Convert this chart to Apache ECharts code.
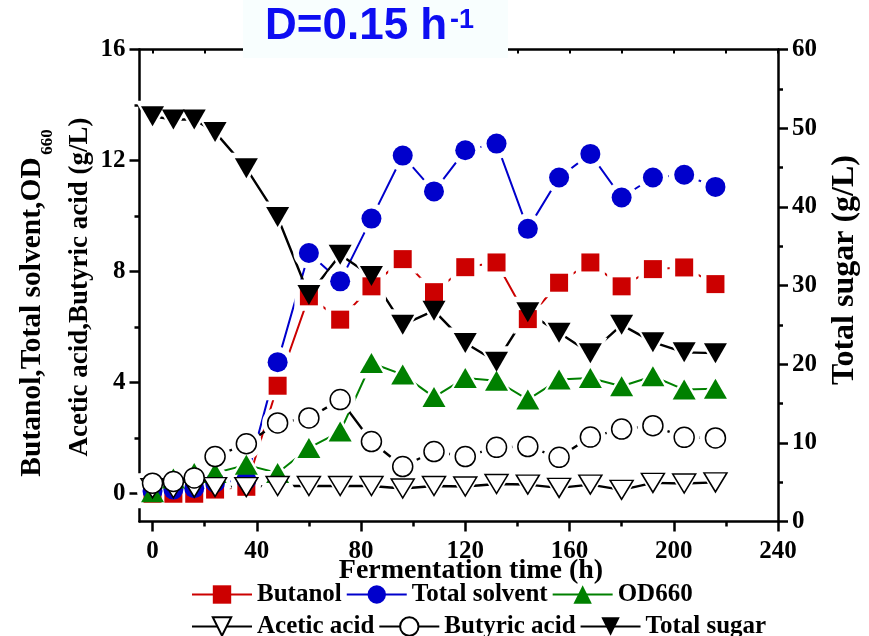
<!DOCTYPE html>
<html>
<head>
<meta charset="utf-8">
<script src="https://cdn.jsdelivr.net/npm/echarts@6.0.0/dist/echarts.min.js"></script>
<style>
  html, body { margin: 0; padding: 0; background: #ffffff; }
  #chart { width: 869px; height: 636px; }
</style>
</head>
<body>
<div id="chart"></div>
<script>
// Sampling times (h)
const timeH = [0, 8, 16, 24, 36, 48, 60, 72, 84, 96, 108, 120, 132, 144, 156, 168, 180, 192, 204, 216];

// Left axis (g/L, OD660)
const butanol      = [0.0, 0.0, 0.0, 0.15, 0.25, 3.89, 7.11, 6.27, 7.47, 8.45, 7.26, 8.16, 8.33, 6.29, 7.60, 8.33, 7.47, 8.09, 8.15, 7.55];
const totalSolvent = [0.1, 0.15, 0.2, 0.4, 0.5, 4.74, 8.67, 7.65, 9.91, 12.18, 10.89, 12.37, 12.61, 9.54, 11.39, 12.24, 10.67, 11.39, 11.49, 11.05];
const od660        = [0.05, 0.55, 0.75, 0.75, 1.04, 0.75, 1.65, 2.24, 4.71, 4.29, 3.48, 4.17, 4.07, 3.39, 4.11, 4.17, 3.87, 4.23, 3.75, 3.78];
const aceticAcid   = [0.2, 0.2, 0.22, 0.24, 0.24, 0.28, 0.28, 0.28, 0.28, 0.19, 0.28, 0.26, 0.35, 0.33, 0.21, 0.33, 0.14, 0.39, 0.37, 0.41];
const butyricAcid  = [0.38, 0.44, 0.57, 1.34, 1.80, 2.55, 2.73, 3.39, 1.88, 0.98, 1.52, 1.34, 1.67, 1.70, 1.31, 2.04, 2.33, 2.45, 2.03, 2.01];

// Right axis (g/L)
const totalSugar   = [51.5, 51.1, 51.1, 49.5, 44.9, 38.7, 28.8, 33.9, 31.2, 25.0, 26.8, 22.7, 20.3, 26.6, 24.0, 21.4, 25.0, 22.8, 21.5, 21.4];

// Tick positions
const xMajorTicks = [0, 40, 80, 120, 160, 200, 240];
const xMinorTicks = [20, 60, 100, 140, 180, 220];
const xAllTicks   = [0, 20, 40, 60, 80, 100, 120, 140, 160, 180, 200, 220, 240];
const leftMajorTicks = [0, 4, 8, 12, 16];
const leftMinorTicks = [2, 6, 10, 14];

const SERIF = "'Liberation Serif', 'Times New Roman', serif";
const SANS = "'Liberation Sans', Arial, sans-serif";
const AXIS_W = 2.5;

const seriesDefs = [
  { name: 'Butanol',       values: butanol,      axis: 0, color: '#cc0000', symbol: 'rect',     size: [18, 18], rotate: 0,   width: 2 },
  { name: 'Total solvent', values: totalSolvent, axis: 0, color: '#0000cc', symbol: 'circle',   size: [20, 20], rotate: 0,   width: 2 },
  { name: 'OD660',         values: od660,        axis: 0, color: '#008000', symbol: 'triangle', size: [23, 20], rotate: 0,   width: 2 },
  { name: 'Acetic acid',   values: aceticAcid,   axis: 0, color: '#000000', symbol: 'triangle', size: [23, 19], rotate: 180, width: 2.4, hollow: true },
  { name: 'Butyric acid',  values: butyricAcid,  axis: 0, color: '#000000', symbol: 'circle',   size: [20, 20], rotate: 0,   width: 2.4, hollow: true },
  { name: 'Total sugar',   values: totalSugar,   axis: 1, color: '#000000', symbol: 'triangle', size: [23, 20], rotate: 180, width: 2.4 }
];

function markerStyle(d) {
  return d.hollow
    ? { color: '#ffffff', borderColor: '#000000', borderWidth: 1.5, opacity: 1 }
    : { color: d.color, borderWidth: 0, opacity: 1 };
}

const series = [];
seriesDefs.forEach(function (d) {
  const pts = timeH.map(function (t, i) { return [t, d.values[i]]; });
  // connecting line (also supplies the legend icon)
  series.push({
    type: 'line', name: d.name, data: pts, yAxisIndex: d.axis, z: 1,
    symbol: d.symbol, symbolSize: d.size, symbolRotate: d.rotate,
    lineStyle: { color: d.color, width: d.width },
    itemStyle: markerStyle(d),
    emphasis: { disabled: true }, silent: true
  });
  // opaque white halo that opens a small gap in the lines around each marker
  series.push({
    type: 'scatter', data: pts, yAxisIndex: d.axis, z: 2,
    symbol: d.symbol, symbolSize: [d.size[0] + 11, d.size[1] + 11], symbolRotate: d.rotate,
    itemStyle: { color: '#ffffff', opacity: 1 }, emphasis: { disabled: true }, silent: true
  });
});
seriesDefs.forEach(function (d) {
  const pts = timeH.map(function (t, i) { return [t, d.values[i]]; });
  series.push({
    type: 'scatter', data: pts, yAxisIndex: d.axis, z: 3,
    symbol: d.symbol, symbolSize: d.size, symbolRotate: d.rotate,
    itemStyle: markerStyle(d), emphasis: { disabled: true }, silent: true
  });
});

const labelFont = { fontFamily: SERIF, fontWeight: 'bold', fontSize: 25, color: '#000' };
const lineStyle = { color: '#000', width: AXIS_W };

const option = {
  animation: false,
  backgroundColor: '#ffffff',
  grid: { left: 139.5, right: 91, top: 49.5, bottom: 114.5, containLabel: false },
  xAxis: [
    { // main bottom axis
      type: 'value', min: -5, max: 240, position: 'bottom',
      axisLine: { show: true, lineStyle: lineStyle, onZero: false },
      axisTick: { show: true, inside: false, length: 10, lineStyle: lineStyle, customValues: xMajorTicks },
      axisLabel: Object.assign({ customValues: xMajorTicks, margin: 18 }, labelFont),
      splitLine: { show: false }
    },
    { // minor ticks
      type: 'value', min: -5, max: 240, position: 'bottom',
      axisLine: { show: false, onZero: false },
      axisTick: { show: true, inside: false, length: 5, lineStyle: lineStyle, customValues: xMinorTicks },
      axisLabel: { show: false }, splitLine: { show: false }
    },
    { // top frame
      type: 'value', min: -5, max: 240, position: 'top',
      axisLine: { show: true, lineStyle: lineStyle, onZero: false },
      axisTick: { show: true, inside: true, length: 4, lineStyle: { color: '#000', width: 2 }, customValues: xAllTicks },
      axisLabel: { show: false }, splitLine: { show: false }
    }
  ],
  yAxis: [
    {
      type: 'value', min: -1, max: 16, position: 'left',
      axisLine: { show: true, lineStyle: lineStyle, onZero: false },
      axisTick: { show: true, inside: false, length: 10, lineStyle: lineStyle, customValues: leftMajorTicks },
      axisLabel: Object.assign({ customValues: leftMajorTicks, margin: 14 }, labelFont),
      splitLine: { show: false }
    },
    {
      type: 'value', min: 0, max: 60, interval: 10, position: 'right',
      axisLine: { show: true, lineStyle: lineStyle, onZero: false },
      axisTick: { show: true, inside: false, length: 10, lineStyle: lineStyle },
      minorTick: { show: true, splitNumber: 2, length: 5, lineStyle: lineStyle },
      axisLabel: Object.assign({ margin: 14 }, labelFont),
      splitLine: { show: false }, minorSplitLine: { show: false }
    },
    {
      type: 'value', min: -1, max: 16, position: 'left',
      axisLine: { show: false, onZero: false },
      axisTick: { show: true, inside: false, length: 5, lineStyle: lineStyle, customValues: leftMinorTicks },
      axisLabel: { show: false }, splitLine: { show: false }
    }
  ],
  legend: [
    {
      data: ['Butanol', 'Total solvent', 'OD660'],
      left: 191, top: 582, padding: 0, itemGap: 4, itemWidth: 60, itemHeight: 23,
      textStyle: { fontFamily: SERIF, fontWeight: 'bold', fontSize: 25, color: '#000' },
      selectedMode: false
    },
    {
      data: ['Acetic acid', 'Butyric acid', 'Total sugar'],
      left: 191, top: 614, padding: 0, itemGap: 4, itemWidth: 60, itemHeight: 23,
      textStyle: { fontFamily: SERIF, fontWeight: 'bold', fontSize: 25, color: '#000' },
      selectedMode: false
    }
  ],
  graphic: [
    { type: 'rect', z: 100, shape: { x: 243, y: 0, width: 265, height: 58 }, style: { fill: '#f8fefe' } },
    { type: 'text', z: 101, x: 265, y: 27,
      style: { text: 'D=0.15 h', font: 'bold 44px ' + SANS, fill: '#0d0df2', verticalAlign: 'middle' } },
    { type: 'text', z: 101, x: 450, y: 21,
      style: { text: '-1', font: 'bold 27px ' + SANS, fill: '#0d0df2', verticalAlign: 'middle' } },
    { type: 'text', z: 50, x: 32, y: 317, rotation: Math.PI / 2,
      style: { text: 'Butanol,Total solvent,OD', font: 'bold 29.5px ' + SERIF, fill: '#000', align: 'center', verticalAlign: 'middle' } },
    { type: 'text', z: 50, x: 48, y: 142, rotation: Math.PI / 2,
      style: { text: '660', font: 'bold 17px ' + SERIF, fill: '#000', align: 'center', verticalAlign: 'middle' } },
    { type: 'text', z: 50, x: 80, y: 287, rotation: Math.PI / 2,
      style: { text: 'Acetic acid,Butyric acid (g/L)', font: 'bold 27px ' + SERIF, fill: '#000', align: 'center', verticalAlign: 'middle' } },
    { type: 'text', z: 50, x: 845, y: 270, rotation: Math.PI / 2,
      style: { text: 'Total sugar (g/L)', font: 'bold 32px ' + SERIF, fill: '#000', align: 'center', verticalAlign: 'middle' } },
    { type: 'text', z: 50, x: 471, y: 571,
      style: { text: 'Fermentation time (h)', font: 'bold 28px ' + SERIF, fill: '#000', align: 'center', verticalAlign: 'middle' } }
  ],
  series: series
};

const chart = echarts.init(document.getElementById('chart'), null, { renderer: 'canvas' });
chart.setOption(option);
</script>
</body>
</html>
